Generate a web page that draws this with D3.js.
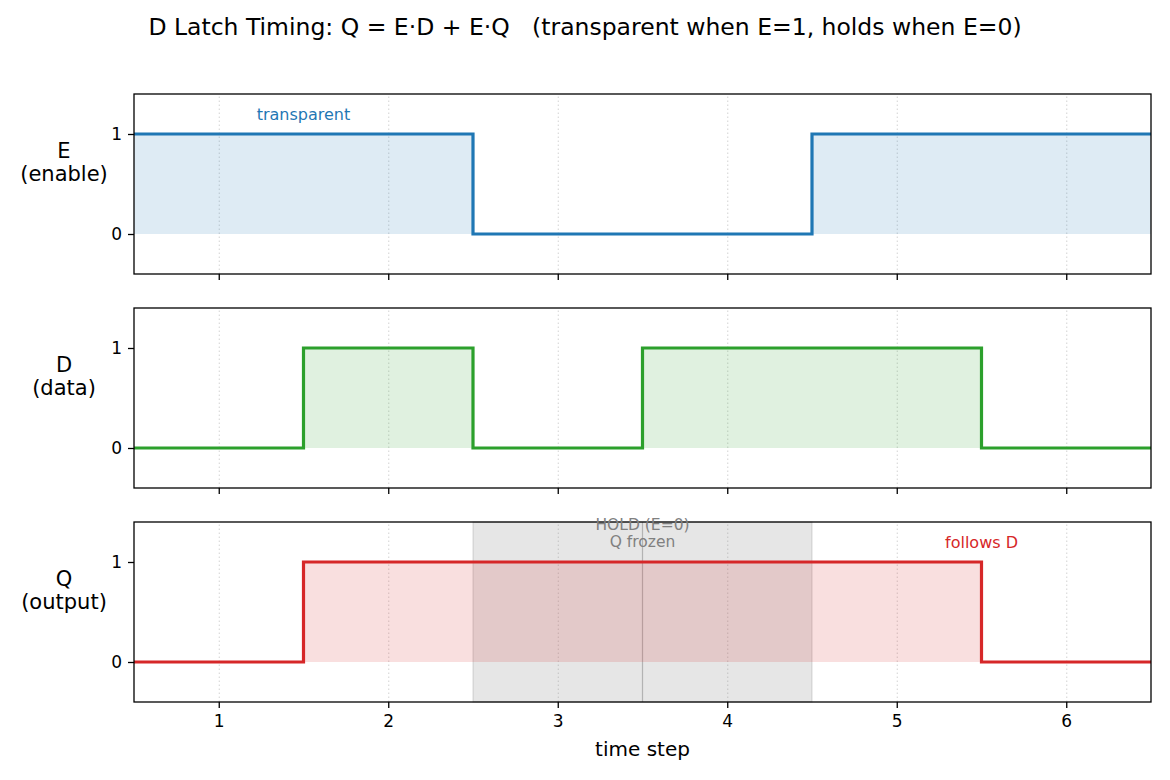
<!DOCTYPE html>
<html>
<head>
  <title>D Latch Timing</title>
  <script src="https://d3js.org/d3.v7.min.js"></script>
  <style>
    body { margin: 0; background: #fff; }
    svg text { font-family: "DejaVu Sans", sans-serif; white-space: pre; }
    .grid line { stroke: #b0b0b0; stroke-dasharray: 1.5 2.5; stroke-width: 0.8; opacity: 0.7; }
    .grid .domain { stroke: none; }
  </style>
</head>
<body>
  <svg id="chart" width="1170" height="780"></svg>
  <script>
    // data
    const steps = [1, 2, 3, 4, 5, 6];
    const enable = [1, 1, 0, 0, 1, 1];
    const dataIn = [0, 1, 0, 1, 1, 0];
    const output = [0, 1, 1, 1, 1, 0];
    const xTicks = [1, 2, 3, 4, 5, 6];
    const yTicks = [0, 1];
    const holdSpan = [2.5, 4.5];
    const holdMark = 3.5;

    const panels = [
      { values: enable, color: "#1f77b4", label: ["E", "(enable)"], top: 94 },
      { values: dataIn, color: "#2ca02c", label: ["D", "(data)"], top: 308 },
      { values: output, color: "#d62728", label: ["Q", "(output)"], top: 522 }
    ];

    const svg = d3.select("#chart");
    const left = 134, right = 1151, panelH = 180;

    const x = d3.scaleLinear().domain([0.5, 6.5]).range([left, right]);

    // title
    svg.append("text")
      .attr("x", 585).attr("y", 27)
      .attr("text-anchor", "middle").attr("dominant-baseline", "central")
      .attr("xml:space", "preserve")
      .style("font-size", "23.5px")
      .text("D Latch Timing: Q = E·D + E·Q   (transparent when E=1, holds when E=0)");

    panels.forEach((p, i) => {
      const y = d3.scaleLinear().domain([-0.4, 1.4]).range([p.top + panelH, p.top]);
      const g = svg.append("g");

      // padded points so the step reaches the axes edges
      const pts = [[0.5, p.values[0]]]
        .concat(steps.map((s, j) => [s, p.values[j]]))
        .concat([[6.5, p.values[p.values.length - 1]]]);

      // vertical grid
      g.append("g").attr("class", "grid")
        .attr("transform", `translate(0,${p.top + panelH})`)
        .call(d3.axisBottom(x).tickValues(xTicks).tickSize(-panelH).tickFormat(""));

      // hold region on Q panel
      if (i === 2) {
        g.append("rect")
          .attr("x", x(holdSpan[0])).attr("y", p.top)
          .attr("width", x(holdSpan[1]) - x(holdSpan[0])).attr("height", panelH)
          .attr("fill", "gray").attr("fill-opacity", 0.2)
          .attr("stroke", "gray").attr("stroke-opacity", 0.25).attr("stroke-width", 1.2);
        g.append("line")
          .attr("x1", x(holdMark)).attr("x2", x(holdMark))
          .attr("y1", p.top).attr("y2", p.top + panelH)
          .attr("stroke", "gray").attr("stroke-opacity", 0.5).attr("stroke-width", 1.2);
      }

      const area = d3.area().curve(d3.curveStep)
        .x(d => x(d[0])).y0(y(0)).y1(d => y(d[1]));
      const line = d3.line().curve(d3.curveStep)
        .x(d => x(d[0])).y(d => y(d[1]));

      g.append("path").datum(pts).attr("d", area)
        .attr("fill", p.color).attr("fill-opacity", 0.15);
      g.append("path").datum(pts).attr("d", line)
        .attr("fill", "none").attr("stroke", p.color).attr("stroke-width", 3.2);

      // axes
      const yAxis = g.append("g").attr("transform", `translate(${left},0)`)
        .call(d3.axisLeft(y).tickValues(yTicks).tickSize(6).tickPadding(6).tickFormat(d3.format("d")));
      const xAxis = g.append("g").attr("transform", `translate(0,${p.top + panelH})`)
        .call(d3.axisBottom(x).tickValues(xTicks).tickSize(6).tickPadding(7)
          .tickFormat(i === 2 ? d3.format("d") : ""));
      [yAxis, xAxis].forEach(a => {
        a.select(".domain").remove();
        a.selectAll("line").attr("stroke", "#000").attr("stroke-width", 1.3);
        a.selectAll("text").style("font-size", "17px").attr("fill", "#000");
      });

      // frame
      g.append("rect")
        .attr("x", left).attr("y", p.top).attr("width", right - left).attr("height", panelH)
        .attr("fill", "none").attr("stroke", "#000").attr("stroke-width", 1.3);

      // panel label
      const lab = g.append("text")
        .attr("text-anchor", "middle").style("font-size", "21px");
      p.label.forEach((t, k) => {
        lab.append("tspan").attr("x", 64)
          .attr("y", p.top + panelH / 2 - 33 + k * 23)
          .attr("dominant-baseline", "central").text(t);
      });

      // annotations
      if (i === 0) {
        g.append("text").attr("x", x(1.5)).attr("y", y(1.2))
          .attr("text-anchor", "middle").attr("dominant-baseline", "central")
          .attr("fill", "#1f77b4").style("font-size", "16px").text("transparent");
      }
      if (i === 2) {
        g.append("text").attr("x", x(5.5)).attr("y", y(1.2))
          .attr("text-anchor", "middle").attr("dominant-baseline", "central")
          .attr("fill", "#d62728").style("font-size", "16px").text("follows D");
        ["HOLD (E=0)", "Q frozen"].forEach((t, k) => {
          g.append("text").attr("x", x(holdMark)).attr("y", y(1.375 - k * 0.17))
            .attr("text-anchor", "middle").attr("dominant-baseline", "central")
            .attr("fill", "gray").style("font-size", "15.5px").text(t);
        });
      }
    });

    svg.append("text")
      .attr("x", (left + right) / 2).attr("y", 749)
      .attr("text-anchor", "middle").attr("dominant-baseline", "central")
      .style("font-size", "20px").text("time step");
  </script>
</body>
</html>
